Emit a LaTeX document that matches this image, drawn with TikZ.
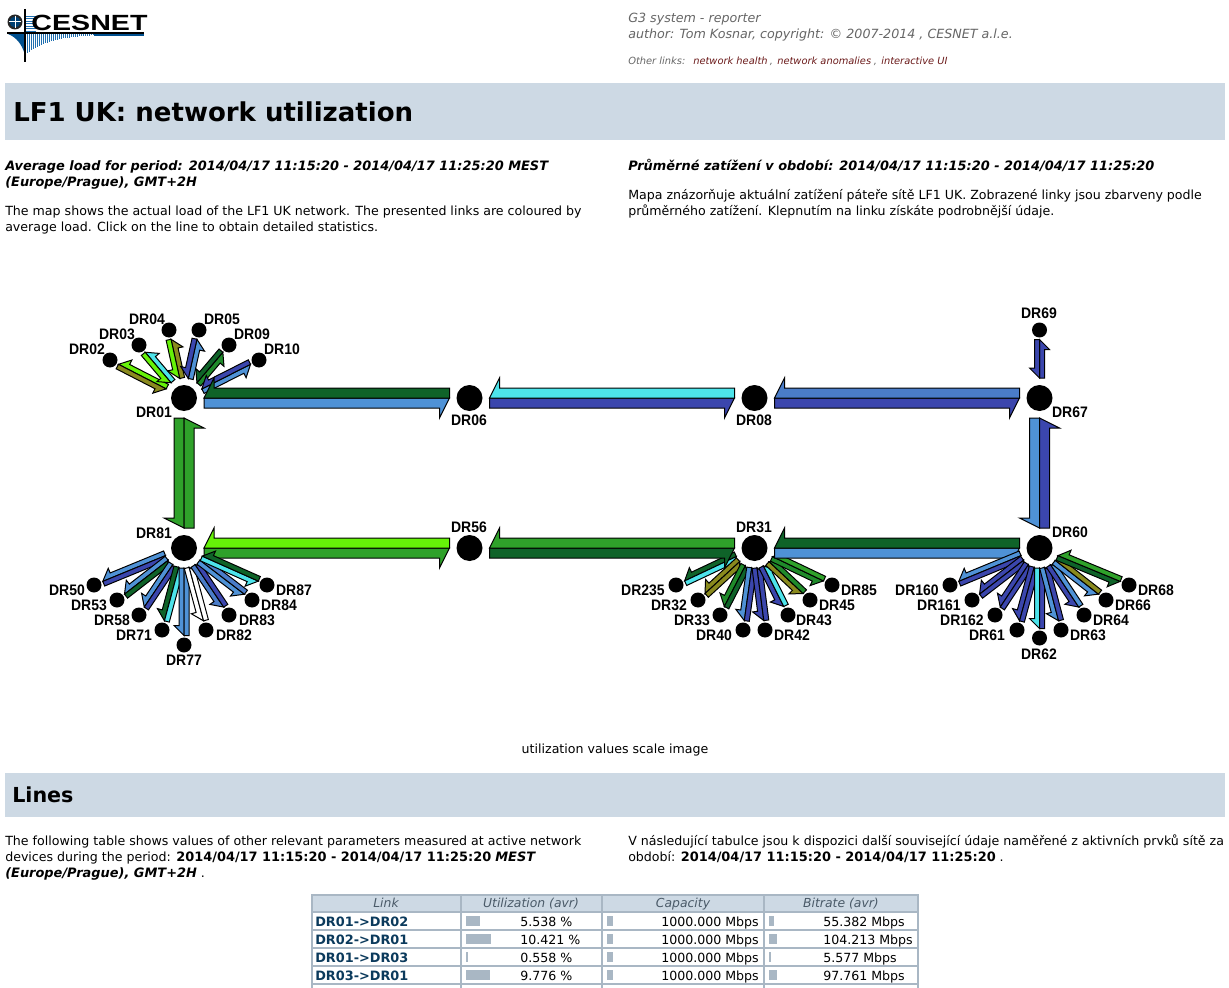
\documentclass[tikz,border=0pt]{standalone}
\usepackage{fontspec}
\setmainfont{DejaVu Sans}
\newfontfamily\rfont{Liberation Sans}
\usetikzlibrary{calc}
\definecolor{cblue}{HTML}{4F92D6}
\definecolor{cindigo}{HTML}{3B46AD}
\definecolor{cmid}{HTML}{4A7CC8}
\definecolor{cdg}{HTML}{0F6329}
\definecolor{cgr}{HTML}{2FA12A}
\definecolor{cmg}{HTML}{1F8A2A}
\definecolor{clime}{HTML}{66F208}
\definecolor{ccyan}{HTML}{4DE3EA}
\definecolor{colive}{HTML}{8A8A1E}
\definecolor{banner}{HTML}{CDD9E4}
\definecolor{grid}{HTML}{A9B7C4}
\definecolor{linkblue}{HTML}{0B3A5C}
\definecolor{headgray}{HTML}{4A5A68}
\definecolor{logoblue}{HTML}{00508F}
\definecolor{logoline}{HTML}{1F6FB0}
\definecolor{linkred}{HTML}{6B1A1A}
\tikzset{
  halfarrow/.style={draw=black,line width=.75pt,line join=miter,miter limit=10},
  hub/.style={circle,fill=black,draw=none,minimum size=19.5pt,inner sep=0pt},
  leaf/.style={circle,fill=black,draw=none,minimum size=11.25pt,inner sep=0pt},
  rlabel/.style={inner sep=0pt,font=\rfont\bfseries\fontsize{11.4}{13}\selectfont,text=black},
  body/.style={anchor=base west,inner sep=0pt,font=\fontsize{9.45}{12}\selectfont,text=black},
  bodyb/.style={body,font=\fontsize{9.7}{12}\selectfont\bfseries\itshape},
  tophead/.style={body,text=black!60,font=\fontsize{9.5}{12}\selectfont\itshape},
  small/.style={body,font=\fontsize{7.4}{9}\selectfont\itshape},
  th/.style={anchor=base,inner sep=0pt,text=headgray,font=\fontsize{9.3}{12}\selectfont\itshape},
  lk/.style={body,text=linkblue,font=\fontsize{9.65}{12}\selectfont\bfseries},
  gridline/.style={draw=grid,line width=1.5pt}
}
\newcommand\halfa[6]{% from,to,gapfrom,gapto,colour,w
  \coordinate (t) at ($(#1)!#3*0.75pt!(#2)$);
  \coordinate (p) at ($(#2)!#4*0.75pt!(#1)$);
  \coordinate (q) at ($(p)!7.5pt!(t)$);
  \filldraw[halfarrow,fill=#5] (t) -- ($(t)!#6*0.75pt!-90:(p)$) -- ($(q)!#6*0.75pt!-90:(p)$)
    -- ($(q)!2*#6*0.75pt!-90:(p)$) -- (p) -- cycle;
}
\newcommand\lnk[4]{% big link
  \halfa{#1}{#2}{20}{20}{#3}{10}\halfa{#2}{#1}{20}{20}{#4}{10}}
\newcommand\slnk[4]{% hub, leaf
  \halfa{#1}{#2}{20}{9.5}{#3}{5}\halfa{#2}{#1}{9.5}{20}{#4}{5}}
\newcommand\hubn[5]{\node[hub] (#1) at (#2,#3) {};\node[rlabel] (#1-l) at (#4,#5) {\scalebox{.92}[1]{#1}};}
\newcommand\leafn[5]{\node[leaf] (#1) at (#2,#3) {};\node[rlabel] (#1-l) at (#4,#5) {\scalebox{.92}[1]{#1}};}
\begin{document}
\begin{tikzpicture}[x=0.75pt,y=-0.75pt]
\useasboundingbox (0,0) rectangle (1229,988);
\fill[white] (0,0) rectangle (1229,988);
% logo
\fill[logoblue] (8,34) .. controls (16,37) and (22,44) .. (25,55) -- (25,34) -- cycle;
\foreach \xx in {27,29,...,93}{
  \pgfmathsetmacro\yy{34+19*exp(-(\xx-27)/25)}
  \draw[logoline,line width=.7pt] (\xx,34) -- (\xx,\yy);
}
\foreach \yy in {16,18.5,...,31}{\draw[logoline,line width=.7pt] (25,\yy) -- (36,\yy);}
\fill[logoblue] (94,34.5) rectangle (144,36);
\node[inner sep=0pt,anchor=center] (logotext) at (89.5,22.5) {\rfont\bfseries\fontsize{16.5}{17}\selectfont\scalebox{1.3}[1]{CESNET}};
\fill[black!85] (15,22) circle (7.5);
\fill[logoblue!80!black] (15,22) circle (5.5);
\draw[white,line width=.75pt] (9,22) -- (21,22) (15,16) -- (15,28);
\draw[black,line width=1.5pt] (7,33) -- (144,33);
\draw[black,line width=1.5pt] (25,9) -- (25,62);
% top right text
\node[tophead] (t1) at (628,23) {G3 system - reporter};
\node[tophead] (t2) at (628,39) {author: Tom Kosnar, copyright: © 2007-2014 , CESNET a.l.e.};
\node[small,text=black!60] (t3) at (628,65) {Other links:};
\node[small,text=linkred] (t4) at (693,65) {network health};
\node[small,text=black!60] (t4c) at (769.5,65) {,};
\node[small,text=linkred] (t5) at (777,65) {network anomalies};
\node[small,text=black!60] (t5c) at (873.5,65) {,};
\node[small,text=linkred] (t6) at (881,65) {interactive UI};
% banners
\fill[banner] (5,83) rectangle (1225,140);
\node[anchor=base west,inner sep=0pt,font=\fontsize{19.5}{22}\selectfont\bfseries] (h1) at (13,122) {LF1 UK: network utilization};
\fill[banner] (5,773) rectangle (1225,817);
\node[anchor=base west,inner sep=0pt,font=\fontsize{15.5}{18}\selectfont\bfseries] (h2) at (12,802) {Lines};
% paragraphs
\node[bodyb] (a1) at (5,171) {Average load for period: 2014/04/17 11:15:20 - 2014/04/17 11:25:20 MEST};
\node[bodyb] (a2) at (5,187) {(Europe/Prague), GMT+2H};
\node[body] (a3) at (5,216) {The map shows the actual load of the LF1 UK network. The presented links are coloured by};
\node[body] (a4) at (5,232) {average load. Click on the line to obtain detailed statistics.};
\node[bodyb] (b1) at (628,171) {Průměrné zatížení v období: 2014/04/17 11:15:20 - 2014/04/17 11:25:20};
\node[body] (b2) at (628,200) {Mapa znázorňuje aktuální zatížení páteře sítě LF1 UK. Zobrazené linky jsou zbarveny podle};
\node[body] (b3) at (628,216) {průměrného zatížení. Klepnutím na linku získáte podrobnější údaje.};
\node[anchor=base,inner sep=0pt,font=\fontsize{9.45}{12}\selectfont] (scale) at (615,753) {utilization values scale image};
\node[body] (c1) at (5,845) {The following table shows values of other relevant parameters measured at active network};
\node[body] (c2) at (5,861) {devices during the period: {\fontsize{9.7}{12}\selectfont\textbf{2014/04/17 11:15:20 - 2014/04/17 11:25:20} \textbf{\textit{MEST}}}};
\node[body] (c3) at (5,877) {{\fontsize{9.7}{12}\selectfont\textbf{\textit{(Europe/Prague), GMT+2H}}} .};
\node[body] (d1) at (628,845) {V následující tabulce jsou k dispozici další související údaje naměřené z aktivních prvků sítě za};
\node[body] (d2) at (628,861) {období: {\fontsize{9.7}{12}\selectfont\textbf{2014/04/17 11:15:20 - 2014/04/17 11:25:20}} .};
% routers
\hubn{DR01}{184}{398}{154}{412}
\hubn{DR06}{469.5}{398}{469}{420}
\hubn{DR08}{754.5}{398}{754}{420}
\hubn{DR67}{1039.5}{398}{1070}{412}
\hubn{DR81}{184}{548}{154}{533}
\hubn{DR56}{469.5}{548}{469}{527}
\hubn{DR31}{754.5}{548}{754}{527}
\hubn{DR60}{1039.5}{548}{1070}{532}
\leafn{DR02}{110}{360}{87}{349}
\leafn{DR03}{139}{345}{117}{334}
\leafn{DR04}{169}{330}{147}{319}
\leafn{DR05}{199}{330}{222}{319}
\leafn{DR09}{229}{345}{252}{334}
\leafn{DR10}{259}{360}{282}{349}
\leafn{DR69}{1039.5}{330}{1039}{313}
\leafn{DR50}{94}{585}{67}{590}
\leafn{DR53}{117}{600}{89}{605}
\leafn{DR58}{139}{615}{112}{620}
\leafn{DR71}{162}{630}{134}{635}
\leafn{DR77}{184}{645}{184}{660}
\leafn{DR82}{206}{630}{234}{635}
\leafn{DR83}{229}{615}{257}{620}
\leafn{DR84}{252}{600}{279}{605}
\leafn{DR87}{267}{585}{294}{590}
\leafn{DR235}{676}{585}{643}{590}
\leafn{DR32}{698}{600}{669}{605}
\leafn{DR33}{720}{615}{692}{620}
\leafn{DR40}{743}{630}{714}{635}
\leafn{DR42}{765}{630}{792}{635}
\leafn{DR43}{788}{615}{814}{620}
\leafn{DR45}{810}{600}{837}{605}
\leafn{DR85}{832}{585}{859}{590}
\leafn{DR160}{950}{585}{917}{590}
\leafn{DR161}{972}{600}{939}{605}
\leafn{DR162}{995}{615}{962}{620}
\leafn{DR61}{1017}{630}{987}{635}
\leafn{DR62}{1039.5}{638}{1039}{654}
\leafn{DR63}{1061}{630}{1088}{635}
\leafn{DR64}{1084}{615}{1111}{620}
\leafn{DR66}{1106}{600}{1133}{605}
\leafn{DR68}{1129}{585}{1156}{590}
% leaf links drawn under the backbone
\slnk{DR01}{DR02}{clime}{colive}
\slnk{DR01}{DR03}{ccyan}{clime}
\slnk{DR01}{DR04}{colive}{clime}
\slnk{DR01}{DR05}{cblue}{cindigo}
\slnk{DR01}{DR09}{cmg}{cdg}
\slnk{DR01}{DR10}{cblue}{cindigo}
\slnk{DR67}{DR69}{cindigo}{cindigo}
\slnk{DR31}{DR235}{cdg}{ccyan}
\slnk{DR31}{DR32}{colive}{colive}
\slnk{DR31}{DR33}{cmg}{cdg}
\slnk{DR31}{DR40}{cblue}{cindigo}
\slnk{DR31}{DR42}{cindigo}{cindigo}
\slnk{DR31}{DR43}{cindigo}{ccyan}
\slnk{DR31}{DR45}{colive}{cmg}
\slnk{DR31}{DR85}{cmg}{cgr}
% backbone
\lnk{DR01}{DR06}{cblue}{cdg}
\lnk{DR06}{DR08}{cindigo}{ccyan}
\lnk{DR08}{DR67}{cindigo}{cmid}
\lnk{DR67}{DR60}{cblue}{cindigo}
\lnk{DR01}{DR81}{cgr}{cgr}
\lnk{DR81}{DR56}{cgr}{clime}
\lnk{DR56}{DR31}{cdg}{cgr}
\lnk{DR31}{DR60}{cblue}{cdg}
% leaf links drawn over the backbone
\slnk{DR81}{DR50}{cblue}{cindigo}
\slnk{DR81}{DR53}{cblue}{cdg}
\slnk{DR81}{DR58}{cblue}{cindigo}
\slnk{DR81}{DR71}{cdg}{ccyan}
\slnk{DR81}{DR77}{cblue}{cblue}
\slnk{DR81}{DR82}{white}{white}
\slnk{DR81}{DR83}{cmid}{cindigo}
\slnk{DR81}{DR84}{cblue}{cmid}
\slnk{DR81}{DR87}{ccyan}{cdg}
\slnk{DR60}{DR160}{cblue}{cindigo}
\slnk{DR60}{DR161}{cindigo}{cindigo}
\slnk{DR60}{DR162}{cindigo}{cindigo}
\slnk{DR60}{DR61}{cindigo}{cindigo}
\slnk{DR60}{DR62}{ccyan}{cindigo}
\slnk{DR60}{DR63}{cblue}{cindigo}
\slnk{DR60}{DR64}{cindigo}{cblue}
\slnk{DR60}{DR66}{cblue}{colive}
\slnk{DR60}{DR68}{cdg}{cgr}
% table
\fill[banner] (312,895) rectangle (918,912);
\foreach \yy in {895,912,930,948,966,984}{\draw[gridline] (311,\yy) -- (919,\yy);}
\foreach \xx in {312,461,602,764,918}{\draw[gridline] (\xx,895) -- (\xx,988);}
\node[th] (th1) at (386,907) {Link};
\node[th] (th2) at (531,907) {Utilization (avr)};
\node[th] (th3) at (683,907) {Capacity};
\node[th] (th4) at (841,907) {Bitrate (avr)};
\newcommand\trow[6]{%
  \fill[grid] (466,#1-10) rectangle (#3,#1);
  \fill[grid] (607,#1-10) rectangle (613,#1);
  \fill[grid] (769,#1-10) rectangle (#6,#1);
  \node[lk] (#2a) at (315,#1) {#2};
  \node[body] (#2b) at (520,#1) {#4 \%};
  \node[body] (#2c) at (661,#1) {1000.000 Mbps};
  \node[body] (#2d) at (823,#1) {#5 Mbps};
}
\trow{926}{DR01->DR02}{480}{5.538}{55.382}{774}
\trow{944}{DR02->DR01}{491}{10.421}{104.213}{777}
\trow{962}{DR01->DR03}{468}{0.558}{5.577}{771}
\trow{980}{DR03->DR01}{490}{9.776}{97.761}{777}
\end{tikzpicture}
\end{document}
